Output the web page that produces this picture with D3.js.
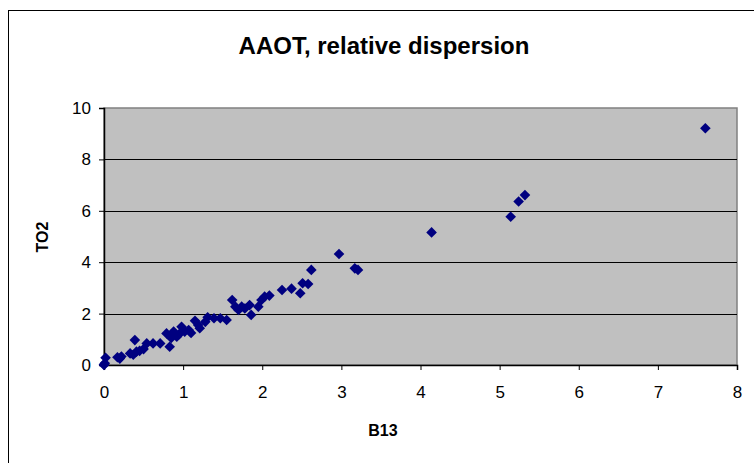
<!DOCTYPE html>
<html>
<head>
<meta charset="utf-8">
<script src="https://cdn.jsdelivr.net/npm/d3@7"></script>
<style>
  body { margin: 0; background: #fff; }
  text { font-family: "Liberation Sans", Arial, sans-serif; }
</style>
</head>
<body>
<svg width="754" height="463"></svg>
<script>
// B13 vs TO2 values
const xValues = [0, 0.01, 0.02, 0, 0.17, 0.2, 0.22, 0.33, 0.37, 0.41, 0.39, 0.45, 0.5,
  0.54, 0.62, 0.71, 0.79, 0.83, 0.88, 0.92, 0.85, 0.98, 1.02, 1.07, 0.95, 1.1, 1.15,
  1.19, 1.21, 1.28, 1.31, 1.39, 1.47, 1.55, 1.62, 1.66, 1.70, 1.74, 1.78, 1.84, 1.86,
  1.95, 1.99, 2.03, 2.09, 2.25, 2.37, 2.48, 2.51, 2.58, 2.62, 2.97, 3.17, 3.21, 4.14,
  5.14, 5.24, 5.32, 7.6];
const yValues = [0, 0.07, 0.28, 0.02, 0.3, 0.25, 0.33, 0.45, 0.4, 0.52, 0.97, 0.55, 0.62,
  0.84, 0.84, 0.84, 1.23, 0.71, 1.3, 1.1, 1.05, 1.49, 1.3, 1.36, 1.2, 1.25, 1.72,
  1.56, 1.43, 1.68, 1.86, 1.82, 1.82, 1.75, 2.53, 2.27, 2.14, 2.27, 2.2, 2.33, 1.95,
  2.27, 2.53, 2.66, 2.7, 2.92, 2.97, 2.79, 3.18, 3.15, 3.7, 4.32, 3.76, 3.7, 5.16,
  5.77, 6.36, 6.61, 9.21];
const xTicks = [0, 1, 2, 3, 4, 5, 6, 7, 8];
const yTicks = [0, 2, 4, 6, 8, 10];

const svg = d3.select('svg');

const plotLeft = 104, plotRight = 737, plotTop = 108, plotBottom = 365;

// outer chart frame (runs off the right and bottom)
svg.append('rect')
   .attr('x', 8.5).attr('y', 10.5)
   .attr('width', 800).attr('height', 500)
   .attr('fill', '#fff').attr('stroke', '#000');

const x = d3.scaleLinear().domain([0, 8]).range([plotLeft, plotRight]);
const y = d3.scaleLinear().domain([0, 10]).range([plotBottom, plotTop]);

// plot area
svg.append('rect')
   .attr('x', plotLeft).attr('y', plotTop)
   .attr('width', plotRight - plotLeft).attr('height', plotBottom - plotTop)
   .attr('fill', '#c0c0c0').attr('stroke', '#808080').attr('stroke-width', 1.5);

// gridlines
svg.append('g')
   .selectAll('line')
   .data(yTicks.filter(d => d > 0 && d < 10))
   .join('line')
   .attr('x1', plotLeft).attr('x2', plotRight)
   .attr('y1', d => Math.round(y(d)) + 0.5).attr('y2', d => Math.round(y(d)) + 0.5)
   .attr('stroke', '#000');

// axes
const xAxis = svg.append('g')
   .attr('transform', `translate(0,${plotBottom})`)
   .call(d3.axisBottom(x).tickValues(xTicks).tickSize(5).tickPadding(16));
const yAxis = svg.append('g')
   .attr('transform', `translate(${plotLeft},0)`)
   .call(d3.axisLeft(y).tickValues(yTicks).tickSize(5).tickPadding(8));

[xAxis, yAxis].forEach(g => {
  g.select('.domain').attr('stroke', '#000').attr('stroke-width', 1.5);
  g.selectAll('.tick line').attr('stroke', '#000');
  g.selectAll('.tick text')
   .attr('fill', '#000')
   .style('font-size', '17px')
   .style('font-family', '"Liberation Sans", Arial, sans-serif');
});

// points
const diamond = d3.symbol().type(d3.symbolDiamond2).size(72);
svg.append('g')
   .selectAll('path')
   .data(xValues.map((d, i) => ({x: d, y: yValues[i]})))
   .join('path')
   .attr('d', diamond)
   .attr('transform', d => `translate(${x(d.x)},${y(d.y)})`)
   .attr('fill', '#000080');

// titles
svg.append('text')
   .attr('x', 384).attr('y', 54)
   .attr('text-anchor', 'middle')
   .attr('font-size', 24).attr('font-weight', 'bold')
   .text('AAOT, relative dispersion');

svg.append('text')
   .attr('x', 383).attr('y', 436)
   .attr('text-anchor', 'middle')
   .attr('font-size', 16).attr('font-weight', 'bold')
   .text('B13');

svg.append('text')
   .attr('transform', 'translate(48,237) rotate(-90)')
   .attr('text-anchor', 'middle')
   .attr('font-size', 16).attr('font-weight', 'bold')
   .text('TO2');
</script>
</body>
</html>
